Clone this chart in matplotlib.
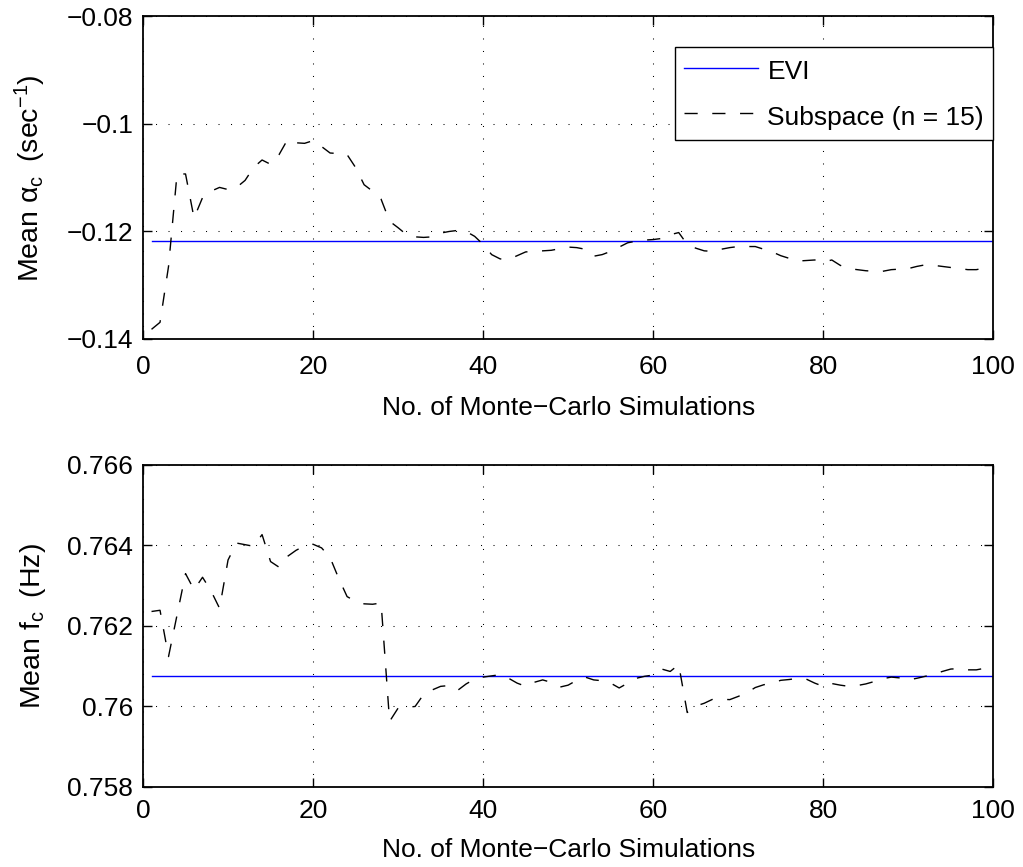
import numpy as np
import matplotlib
matplotlib.use("Agg")
import matplotlib.pyplot as plt

# ---------------- data ----------------
n_sim = list(range(1, 101))

alpha_subspace = [
    -0.1382, -0.1369, -0.1265, -0.1093, -0.1093, -0.1175, -0.1137, -0.1125, -0.1118, -0.1122,
    -0.1118, -0.1105, -0.1081, -0.1067, -0.1075, -0.1057, -0.1029, -0.1035, -0.1036, -0.1031,
    -0.1042, -0.1054, -0.1055, -0.1057, -0.1081, -0.1113, -0.1125, -0.1140, -0.1181, -0.1193,
    -0.1206, -0.1210, -0.1211, -0.1210, -0.1203, -0.1200, -0.1198, -0.1200, -0.1209, -0.1224,
    -0.1243, -0.1251, -0.1252, -0.1245, -0.1238, -0.1237, -0.1236, -0.1235, -0.1232, -0.1229,
    -0.1230, -0.1233, -0.1246, -0.1243, -0.1237, -0.1229, -0.1221, -0.1218, -0.1216, -0.1215,
    -0.1213, -0.1206, -0.1202, -0.1224, -0.1231, -0.1236, -0.1237, -0.1233, -0.1230, -0.1228,
    -0.1228, -0.1228, -0.1233, -0.1238, -0.1245, -0.1250, -0.1255, -0.1254, -0.1253, -0.1257,
    -0.1253, -0.1263, -0.1269, -0.1271, -0.1273, -0.1274, -0.1274, -0.1271, -0.1270, -0.1269,
    -0.1265, -0.1262, -0.1263, -0.1265, -0.1267, -0.1269, -0.1271, -0.1271, -0.1268, -0.1267,
]
alpha_evi = -0.1218

freq_subspace = [
    0.76236, 0.76239, 0.76124, 0.76227, 0.76330, 0.76290, 0.76321, 0.76287, 0.76244, 0.76364,
    0.76406, 0.76402, 0.76398, 0.76427, 0.76360, 0.76346, 0.76373, 0.76388, 0.76399, 0.76403,
    0.76394, 0.76370, 0.76319, 0.76273, 0.76261, 0.76255, 0.76254, 0.76257, 0.75963, 0.75996,
    0.75998, 0.76000, 0.76030, 0.76041, 0.76050, 0.76052, 0.76040, 0.76056, 0.76068, 0.76073,
    0.76076, 0.76079, 0.76070, 0.76058, 0.76050, 0.76060, 0.76066, 0.76060, 0.76048, 0.76053,
    0.76065, 0.76073, 0.76066, 0.76064, 0.76058, 0.76046, 0.76058, 0.76070, 0.76075, 0.76078,
    0.76093, 0.76087, 0.76104, 0.75985, 0.76001, 0.76008, 0.76018, 0.76018, 0.76017, 0.76025,
    0.76034, 0.76047, 0.76054, 0.76058, 0.76065, 0.76067, 0.76070, 0.76068, 0.76058, 0.76050,
    0.76057, 0.76053, 0.76050, 0.76052, 0.76056, 0.76062, 0.76069, 0.76073, 0.76071, 0.76066,
    0.76070, 0.76075, 0.76080, 0.76087, 0.76093, 0.76094, 0.76091, 0.76091, 0.76095, 0.76103,
]
freq_evi = 0.76076

x_ticks = [0, 20, 40, 60, 80, 100]
alpha_ticks = [-0.14, -0.12, -0.1, -0.08]
alpha_ticklabels = ["\u22120.14", "\u22120.12", "\u22120.1", "\u22120.08"]
freq_ticks = [0.758, 0.76, 0.762, 0.764, 0.766]
freq_ticklabels = ["0.758", "0.76", "0.762", "0.764", "0.766"]

legend_labels = ["EVI", "Subspace (n = 15)"]
xlabel_text = "No. of Monte\u2212Carlo Simulations"
ylabel_top = "Mean \u03b1$_{\\mathrm{c}}$\u2009 (sec$^{\\mathrm{-1}}$)"
ylabel_bottom = "Mean f$_{\\mathrm{c}}$\u2009 (Hz)"

# ---------------- style ----------------
plt.rcParams["font.family"] = ["Liberation Sans", "DejaVu Sans"]
plt.rcParams["mathtext.fontset"] = "custom"
plt.rcParams["mathtext.rm"] = "Liberation Sans"
plt.rcParams["mathtext.it"] = "Liberation Sans:italic"
plt.rcParams["mathtext.bf"] = "Liberation Sans:bold"

FS = 19

fig = plt.figure(figsize=(10.23, 8.67), dpi=100)
ax1 = fig.add_axes([0.1398, 0.6090, 0.8312, 0.3720])
ax2 = fig.add_axes([0.1398, 0.0923, 0.8312, 0.3714])

dash = (0, (9.5, 10.5))


def style_axes(ax, xpad, lpad):
    ax.set_xlim(0, 100)
    ax.set_xticks(x_ticks)
    ax.set_xticklabels([str(t) for t in x_ticks])
    ax.tick_params(direction="in", length=6.5, width=1.0, top=True, right=True,
                   labelsize=FS)
    ax.tick_params(axis="x", pad=xpad)
    ax.tick_params(axis="y", pad=7)
    ax.grid(True, color="k", linestyle=(0, (1, 11)), linewidth=0.75)
    for s in ax.spines.values():
        s.set_linewidth(1.3)
    ax.set_xlabel(xlabel_text, fontsize=FS, labelpad=lpad)


# top panel
l1, = ax1.plot([n_sim[0], n_sim[-1]], [alpha_evi, alpha_evi], color=(0, 0, 1), lw=1.0)
l2, = ax1.plot(n_sim, alpha_subspace, color="k", lw=1.0, linestyle=dash)
ax1.set_ylim(-0.14, -0.08)
ax1.set_yticks(alpha_ticks)
ax1.set_yticklabels(alpha_ticklabels)
style_axes(ax1, 11.5, 12)
ax1.set_ylabel(ylabel_top, fontsize=20.5)
ax1.yaxis.set_label_coords(-0.112, 0.5)
leg = ax1.legend([l1, l2], legend_labels, loc="upper right",
                 bbox_to_anchor=(1.0, 0.9054), borderaxespad=0,
                 fontsize=FS, handlelength=2.8, handletextpad=0.35,
                 handleheight=1.3, labelspacing=0.63, borderpad=0.35,
                 fancybox=False, framealpha=1, edgecolor="k")
leg.get_frame().set_linewidth(1.0)

# bottom panel
ax2.plot([n_sim[0], n_sim[-1]], [freq_evi, freq_evi], color=(0, 0, 1), lw=1.0)
ax2.plot(n_sim, freq_subspace, color="k", lw=1.0, linestyle=dash)
ax2.set_ylim(0.758, 0.766)
ax2.set_yticks(freq_ticks)
ax2.set_yticklabels(freq_ticklabels)
style_axes(ax2, 8.5, 11)
ax2.set_ylabel(ylabel_bottom, fontsize=20.5)
ax2.yaxis.set_label_coords(-0.112, 0.5)

fig.savefig("out.png", dpi=100)
